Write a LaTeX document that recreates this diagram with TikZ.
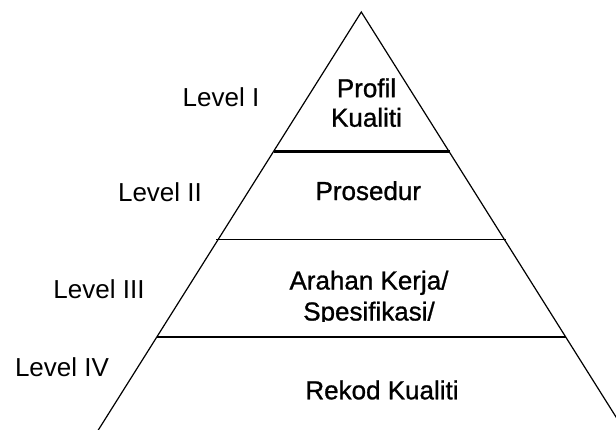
\documentclass[tikz,border=0pt]{standalone}
\usepackage{fontspec}
\setmainfont{Liberation Sans}
\newfontfamily\tierfont{Liberation Sans}[FakeBold=1]
\tikzset{
  side/.style={black, line width=1.2pt},
  tier/.style={black, line width=2.3pt},
  thintier/.style={black, line width=1.3pt},
  levellab/.style={font=\fontsize{26}{29.5}\selectfont, inner sep=0pt, anchor=base},
  tiertext/.style={font=\tierfont\fontsize{26}{29.5}\selectfont, inner sep=0pt,
                   anchor=base, align=center},
}

\begin{document}
\begin{tikzpicture}[x=1pt,y=-1pt]
  \path[use as bounding box] (0,0) rectangle (616,429);

  % pyramid sides, cut off by the page edge
  \coordinate (apex) at (361.3,12);
  \begin{scope}
    \clip (0,0) rectangle (616,429);
    \draw[side] (92,440) -- (apex) -- (630.5,440);
  \end{scope}

  % tier boundaries
  \draw[tier] (273.5,151.5) -- (449.7,151.5);
  \draw[thintier] (216,239.5) -- (506,239.5);
  \draw[tier] (156.7,337.3) -- (566,337.3);

  % level labels
  \node[levellab] (levelone) at (221,106) {Level I};
  \node[levellab] (leveltwo) at (160,201.7) {Level II};
  \node[levellab] (levelthree) at (99,298.3) {Level III};
  \node[levellab] (levelfour) at (62,376) {Level IV};

  % tier contents (base = last line)
  \node[tiertext] (profil) at (366.5,126.7) {Profil\\Kualiti};
  \node[tiertext] (prosedur) at (368.3,200) {Prosedur};
  \begin{scope}
    \clip (250,250) rectangle (500,321.3);
    \node[tiertext] (arahan) at (369,320.5) {Arahan Kerja/\\[1.5pt]Spesifikasi/};
  \end{scope}
  \node[tiertext] (rekod) at (382,399.3) {Rekod Kualiti};
\end{tikzpicture}
\end{document}
